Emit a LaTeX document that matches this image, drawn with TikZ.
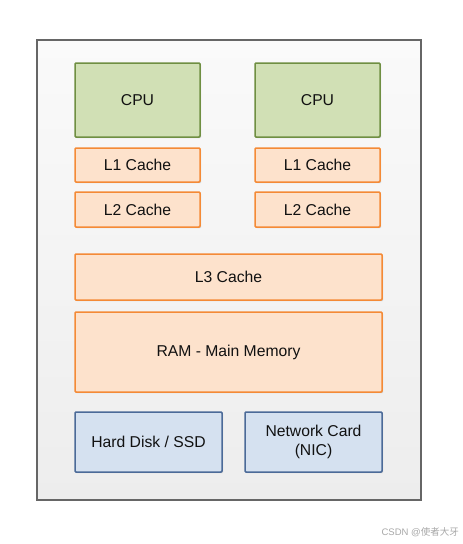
\documentclass[tikz,border=0pt]{standalone}
\usepackage{fontspec}
\setmainfont{Liberation Sans}
\newfontfamily\cjkfont{Noto Sans CJK SC}
\usetikzlibrary{shadows}
\definecolor{outerfill1}{HTML}{FAFAFA}
\definecolor{outerfill2}{HTML}{EDEDED}
\definecolor{outerline}{HTML}{666666}
\definecolor{cpufill}{HTML}{D1E0B5}
\definecolor{cpuline}{HTML}{6F8F42}
\definecolor{cachefill}{HTML}{FDE2CC}
\definecolor{cacheline}{HTML}{F48A36}
\definecolor{iofill}{HTML}{D5E1F0}
\definecolor{ioline}{HTML}{4B6A98}
\definecolor{wmark}{HTML}{A8A8A8}
\definecolor{txt}{HTML}{111111}
\tikzset{
  box/.style={draw, line width=1.5pt, rounded corners=1pt, inner sep=0pt,
    align=center, text=txt, font=\fontsize{15.7}{19}\selectfont,
    drop shadow={shadow xshift=1.2pt, shadow yshift=-1.2pt, fill=black!30, opacity=0.5}},
  cpubox/.style={box, fill=cpufill, draw=cpuline},
  cachebox/.style={box, fill=cachefill, draw=cacheline},
  iobox/.style={box, fill=iofill, draw=ioline},
}
\begin{document}
\begin{tikzpicture}[x=1pt,y=-1pt]
\useasboundingbox (0,0) rectangle (463,544);
\fill[white] (0,0) rectangle (463,544);
% outer box
\node[draw=outerline, line width=1.5pt, top color=outerfill1, bottom color=outerfill2,
  minimum width=384pt, minimum height=460pt, inner sep=0pt,
  drop shadow={shadow xshift=1.2pt, shadow yshift=-1.2pt, fill=black!30, opacity=0.5}]
  (outer) at (229,270) {};
% CPUs
\node[cpubox, minimum width=125pt, minimum height=74pt] (cpu1) at (137.5,100) {CPU};
\node[cpubox, minimum width=125pt, minimum height=74pt] (cpu2) at (317.5,100) {CPU};
% L1/L2
\node[cachebox, minimum width=125pt, minimum height=34pt] (l1a) at (137.5,165) {L1 Cache};
\node[cachebox, minimum width=125pt, minimum height=34pt] (l1b) at (317.5,165) {L1 Cache};
\node[cachebox, minimum width=125pt, minimum height=35pt] (l2a) at (137.5,209.5) {L2 Cache};
\node[cachebox, minimum width=125pt, minimum height=35pt] (l2b) at (317.5,209.5) {L2 Cache};
% L3 and RAM
\node[cachebox, minimum width=307pt, minimum height=46pt] (l3) at (228.5,277) {L3 Cache};
\node[cachebox, minimum width=307pt, minimum height=80pt] (ram) at (228.5,352) {RAM - Main Memory};
% IO
\node[iobox, minimum width=147pt, minimum height=60pt] (hdd) at (148.5,442) {Hard Disk / SSD};
\node[iobox, minimum width=137pt, minimum height=60pt] (nic) at (313.5,442) {Network Card\\(NIC)};
% watermark
\node[anchor=east, text=wmark, font=\fontsize{9.5}{11}\selectfont, inner sep=0pt] (wm) at (459,532) {CSDN @{\cjkfont 使者大牙}};
\end{tikzpicture}
\end{document}
